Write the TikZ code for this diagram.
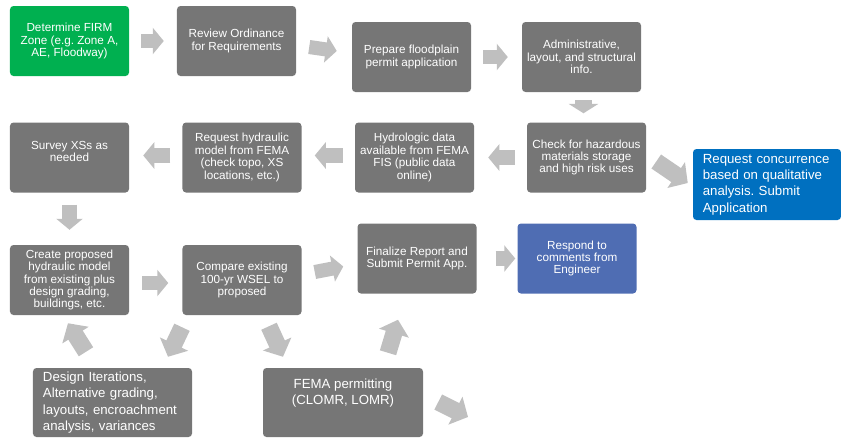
\documentclass[tikz,border=0pt]{standalone}
\usepackage{fontspec}
\setmainfont{Liberation Sans}
\usetikzlibrary{arrows.meta,calc}
\frenchspacing

\definecolor{boxgray}{RGB}{118,118,118}
\definecolor{arrowgray}{RGB}{191,191,191}
\definecolor{firmgreen}{RGB}{0,176,80}
\definecolor{concurblue}{RGB}{0,112,192}
\definecolor{respondblue}{RGB}{79,109,179}

\tikzset{
  stepbox/.style={rectangle, rounded corners=3pt, fill=boxgray, text=white,
    minimum width=3.57cm, minimum height=2.1cm, inner sep=1pt, align=center,
    font=\fontsize{10}{10.6}\selectfont},
  bigtext/.style={font=\fontsize{11.3}{13.9}\selectfont},
  flow/.style={draw=arrowgray, line width=12pt, -{Triangle[length=9.4pt, width=22.2pt]}},
  flowbig/.style={draw=arrowgray, line width=14.5pt, -{Triangle[length=12pt, width=26pt]}}
}

\begin{document}
\begin{tikzpicture}[x=0.03cm, y=-0.03cm]
  \useasboundingbox (0,0) rectangle (841,437);
  % first row
  \node[stepbox, fill=firmgreen] (firm) at (69.5,41) {Determine FIRM\\Zone (e.g. Zone A,\\AE, Floodway)};
  \node[stepbox] (review) at (236.5,41) {Review Ordinance\\for Requirements};
  \node[stepbox] (prepare) at (411.5,57) {Prepare floodplain\\permit application};
  \node[stepbox] (admin) at (581.5,57) {Administrative,\\layout, and structural\\info.};
  % second row
  \node[stepbox] (check) at (586.5,157.5) {Check for hazardous\\materials storage\\and high risk uses};
  \node[stepbox, bigtext, fill=concurblue, minimum height=2.13cm, text width=3.85cm,
    inner xsep=0.295cm, align=left] (concur) at (767,184.5) {Request concurrence\\based on qualitative\\analysis. Submit\\Application};
  \node[stepbox] (hydro) at (414.5,157.5) {Hydrologic data\\available from FEMA\\FIS (public data\\online)};
  \node[stepbox] (request) at (242,157.5) {Request hydraulic\\model from FEMA\\(check topo, XS\\locations, etc.)};
  \node[stepbox] (survey) at (69.5,157.5) {Survey XSs as\\needed\\\mbox{}};
  % third row
  \node[stepbox] (create) at (69.5,280) {Create proposed\\hydraulic model\\from existing plus\\design grading,\\buildings, etc.};
  \node[stepbox] (compare) at (242,280) {Compare existing\\100-yr WSEL to\\proposed};
  \node[stepbox] (finalize) at (417,258.5) {Finalize Report and\\Submit Permit App.};
  \node[stepbox, fill=respondblue] (respond) at (577,258.5) {Respond to\\comments from\\Engineer};
  % bottom row
  \node[stepbox, bigtext, minimum height=2.07cm, text width=4.17cm, inner xsep=0.3cm,
    align=left] (design) at (112.5,402.5) {Design Iterations,\\Alternative grading,\\layouts, encroachment\\analysis, variances};
  \node[stepbox, bigtext, minimum width=4.8cm, minimum height=2.07cm] (fema) at (343,402.5) {FEMA permitting\\(CLOMR, LOMR)\\[4pt]\mbox{}};
  \coordinate (femaout) at (468,417);

  % block arrows
  \draw[flow] ($(firm.east)+(12,0)$) -- ($(review.west)+(-13,0)$);
  \draw[flow] ($(review.east)+(13,6)$) -- ($(prepare.west)+(-15,-6)$);
  \draw[flow] ($(prepare.east)+(12,0)$) -- ($(admin.west)+(-14,0)$);
  \draw[flowbig, -{Triangle[length=8pt, width=25pt]}] ($(admin.south)+(2,8)$) -- ($(check.north)+(-3,-9)$);
  \draw[flowbig] ($(check.east)+(10,4)$) -- ($(concur.west)+(-5,-1.5)$);
  \draw[flow] ($(check.west)+(-12,0)$) -- ($(hydro.east)+(14,0)$);
  \draw[flow] ($(hydro.west)+(-12,-2)$) -- ($(request.east)+(13,-2)$);
  \draw[flow] ($(request.west)+(-12,-2)$) -- ($(survey.east)+(14,-2)$);
  \draw[flow] ($(survey.south)+(0,12)$) -- ($(create.north)+(0,-15)$);
  \draw[flow] ($(create.east)+(13,3)$) -- ($(compare.west)+(-14,3)$);
  \draw[flow] ($(compare.east)+(13,-8)$) -- ($(finalize.west)+(-14,8)$);
  \draw[flow] ($(finalize.east)+(19,0)$) -- ($(respond.west)+(-2,0)$);
  \draw[flowbig] ($(compare.south)+(-60,12)$) -- ($(design.north)+(55.5,-11)$);
  \draw[flowbig] ($(design.north)+(-26.5,-16)$) -- ($(create.south)+(-1.5,8)$);
  \draw[flowbig] ($(compare.south)+(27,11)$) -- ($(fema.north)+(-60,-11)$);
  \draw[flowbig] ($(fema.north)+(45,-15)$) -- ($(finalize.south)+(-19,26)$);
  \draw[flowbig] ($(fema.east)+(15,-0.5)$) -- (femaout);
\end{tikzpicture}
\end{document}
